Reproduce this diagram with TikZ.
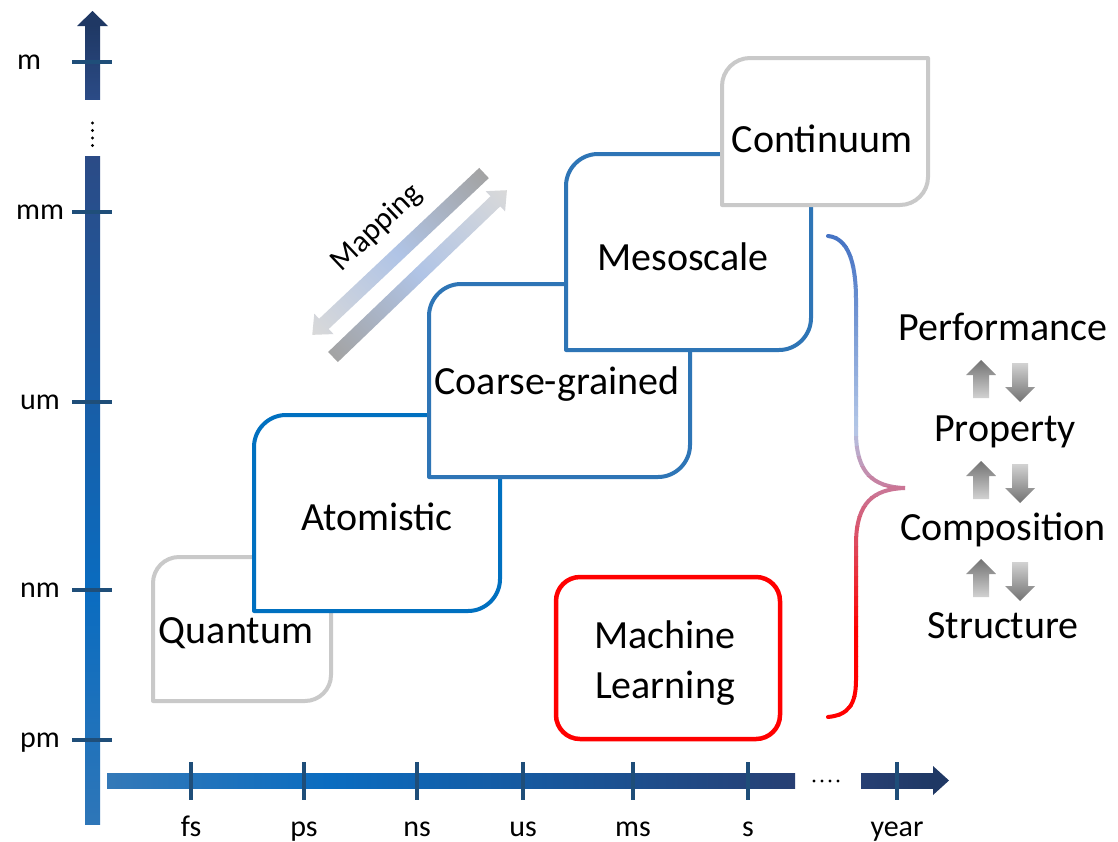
\documentclass[tikz,border=0pt]{standalone}
\usepackage{fontspec}
\setmainfont{Carlito}

% axis colours
\definecolor{vnavy}{HTML}{1F3864}
\definecolor{vnavyb}{HTML}{2B4B86}
\definecolor{vmid}{HTML}{0A6CC0}
\definecolor{vlow}{HTML}{2E76B8}
\definecolor{hlow}{HTML}{3479B8}
\definecolor{hdark}{HTML}{273F73}
\definecolor{tickc}{HTML}{1F4E79}
% box outlines
\definecolor{greyedge}{HTML}{C9C9C9}
\definecolor{atomblue}{HTML}{0070C0}
\definecolor{cgblue}{HTML}{2E75B6}
\definecolor{mlred}{HTML}{FF0000}
% brace gradient stops
\definecolor{braceA}{HTML}{4472C4}
\definecolor{braceB}{HTML}{B4C7E7}
\definecolor{braceC}{HTML}{C9799A}
\definecolor{braceD}{HTML}{FF0000}
% mapping arrows and small arrows
\definecolor{maptail}{HTML}{A3A3A3}
\definecolor{mapblue}{HTML}{B0C4E6}
\definecolor{maphead}{HTML}{D9D9D9}
\definecolor{arrdark}{HTML}{727272}
\definecolor{arrlight}{HTML}{D2D2D2}

% box with rounded top-left and bottom-right corners: style, x0, y0, x1, y1, radius
\newcommand\tierbox[6]{%
  \draw[#1] (#2,#5) -- (#2,{#3+#6})
    .. controls (#2,{#3+0.45*#6}) and ({#2+0.45*#6},#3) .. ({#2+#6},#3)
    -- (#4,#3) -- (#4,{#5-#6})
    .. controls (#4,{#5-0.45*#6}) and ({#4-0.45*#6},#5) .. ({#4-#6},#5)
    -- cycle;}

% block arrow for the mapping pair: tail x, tail y, angle, length
\newcommand\maparrow[4]{%
  \begin{scope}[transform canvas={shift={(#1,#2)}, rotate=#3}]
    \shade[left color=maptail, right color=maphead, middle color=mapblue]
      (0,-7) -- ({#4-16},-7) -- ({#4-16},-14) -- (#4,0)
      -- ({#4-16},14) -- ({#4-16},7) -- (0,7) -- cycle;
  \end{scope}}

% small grey up / down arrows: centre x, top y
\newcommand\uparr[2]{%
  \shade[top color=arrdark, bottom color=arrlight]
    (#1,#2) -- ({#1+15},{#2+15}) -- ({#1+8},{#2+15}) -- ({#1+8},{#2+38})
    -- ({#1-8},{#2+38}) -- ({#1-8},{#2+15}) -- ({#1-15},{#2+15}) -- cycle;}
\newcommand\downarr[2]{%
  \shade[top color=arrlight, bottom color=arrdark]
    ({#1-8},#2) -- ({#1+8},#2) -- ({#1+8},{#2+24}) -- ({#1+15},{#2+24})
    -- (#1,{#2+39}) -- ({#1-15},{#2+24}) -- ({#1-8},{#2+24}) -- cycle;}

% the curly brace
\newcommand\bracestroke[1]{%
  \draw[#1, line width=4pt, line cap=round]
    (828,236) .. controls (848,238) and (856,262) .. (856,300)
    -- (856,435) .. controls (857,472) and (872,487) .. (905,488)
    .. controls (872,489) and (857,504) .. (856,541)
    -- (856,680) .. controls (856,705) and (848,715) .. (828,717);}

\begin{document}
\begin{tikzpicture}[x=1pt,y=-1pt,
  box/.style={line width=4pt, fill=white, line join=round},
  level/.style={font=\fontsize{40}{48}\selectfont, inner sep=0pt, anchor=base},
  axislabel/.style={font=\fontsize{30}{36}\selectfont, inner sep=0pt, anchor=base},
  ticks/.style={draw=tickc, line width=4pt},
]
\useasboundingbox (0,0) rectangle (1118,841);
\fill[white] (0,0) rectangle (1118,841);

% ---- length axis ----
\shade[top color=vnavy, bottom color=vnavyb] (85,25) rectangle (100,99);
\fill[vnavy] (92.5,11) -- (108,26) -- (77,26) -- cycle;
\foreach \y in {123,130.5,138,145.5} \fill (92.5,\y) circle[radius=1.7];
\shade[top color=vnavyb, bottom color=vmid] (85,156) rectangle (100,591);
\shade[top color=vmid, bottom color=vlow] (85,590) rectangle (100,824);
\foreach \y in {62,212,402,590,740} \draw[ticks] (72,\y) -- (112,\y);
\node[axislabel] (lm)  at (29,69)  {m};
\node[axislabel] (lmm) at (40,219) {mm};
\node[axislabel] (lum) at (40,409) {um};
\node[axislabel] (lnm) at (40,597) {nm};
\node[axislabel] (lpm) at (40,747) {pm};

% ---- time axis ----
\shade[left color=hlow, right color=vmid] (107,773) rectangle (331,788);
\shade[left color=vmid, right color=hdark] (330,773) rectangle (795,788);
\foreach \x in {814,822,830,838} \fill (\x,781) circle[radius=1.7];
\shade[left color=hdark, right color=vnavy] (861,773) rectangle (934,788);
\fill[vnavy] (949,780.5) -- (933,766) -- (933,795) -- cycle;
\foreach \x in {191,304,417,523,633,748,897} \draw[ticks] (\x,762) -- (\x,800);
\node[axislabel] (lfs)   at (191,836) {fs};
\node[axislabel] (lps)   at (304,836) {ps};
\node[axislabel] (lns)   at (417,836) {ns};
\node[axislabel] (lus)   at (523,836) {us};
\node[axislabel] (lms)   at (633,836) {ms};
\node[axislabel] (ls)    at (748,836) {s};
\node[axislabel] (lyear) at (897,836) {year};

% ---- modelling scales, back to front ----
\tierbox{box, draw=greyedge}{153}{557}{331}{701}{26}
\node[level] (quantum) at (236,643) {Quantum};
\tierbox{box, draw=atomblue}{254}{415}{500}{611}{32}
\node[level] (atomistic) at (377,530) {Atomistic};
\tierbox{box, draw=cgblue}{429}{284}{690}{477}{32}
\node[level] (coarse) at (557,394) {Coarse-grained};
\tierbox{box, draw=cgblue}{566}{154}{811}{350}{32}
\node[level] (meso) at (683,270) {Mesoscale};
\tierbox{box, draw=greyedge}{722}{58}{928}{205}{28}
\node[level] (continuum) at (822,152) {Continuum};

% machine learning
\draw[box, draw=mlred, line width=4.5pt, rounded corners=24pt] (556,577) rectangle (780,739);
\node[font=\fontsize{40}{50}\selectfont, inner sep=0pt, align=center] (ml) at (665,663) {Machine\\Learning};

% ---- mapping arrows ----
\maparrow{484}{173}{223.3}{236}
\maparrow{333}{357}{43.8}{241}
\node[font=\fontsize{31}{36}\selectfont, inner sep=0pt, rotate=43.5] (mapping) at (377,228) {Mapping};

% ---- brace with a vertical colour gradient ----
\foreach \i in {0,...,49}{
  \pgfmathsetmacro\ya{226+10*\i}
  \pgfmathsetmacro\yb{\ya+10.8}
  \pgfmathsetmacro\ym{\ya+5}
  \ifdim\ym pt<430pt
    \pgfmathtruncatemacro\p{min(100,(430-\ym)/1.94)}
    \colorlet{bc}{braceA!\p!braceB}
  \else\ifdim\ym pt<488pt
    \pgfmathtruncatemacro\p{(488-\ym)/0.58}
    \colorlet{bc}{braceB!\p!braceC}
  \else
    \pgfmathtruncatemacro\p{max(0,(630-\ym)/1.42)}
    \colorlet{bc}{braceC!\p!braceD}
  \fi\fi
  \begin{scope}
    \clip (800,\ya) rectangle (930,\yb);
    \bracestroke{bc}
  \end{scope}
}

% ---- material hierarchy ----
\node[level] (perf)  at (1003,340) {Performance};
\node[level] (prop)  at (1005,441) {Property};
\node[level] (comp)  at (1003,540) {Composition};
\node[level] (struc) at (1003,638) {Structure};
\foreach \dy in {0,101,199}{
  \uparr{981}{360+\dy}
  \downarr{1020}{363+\dy}
}
\end{tikzpicture}
\end{document}
